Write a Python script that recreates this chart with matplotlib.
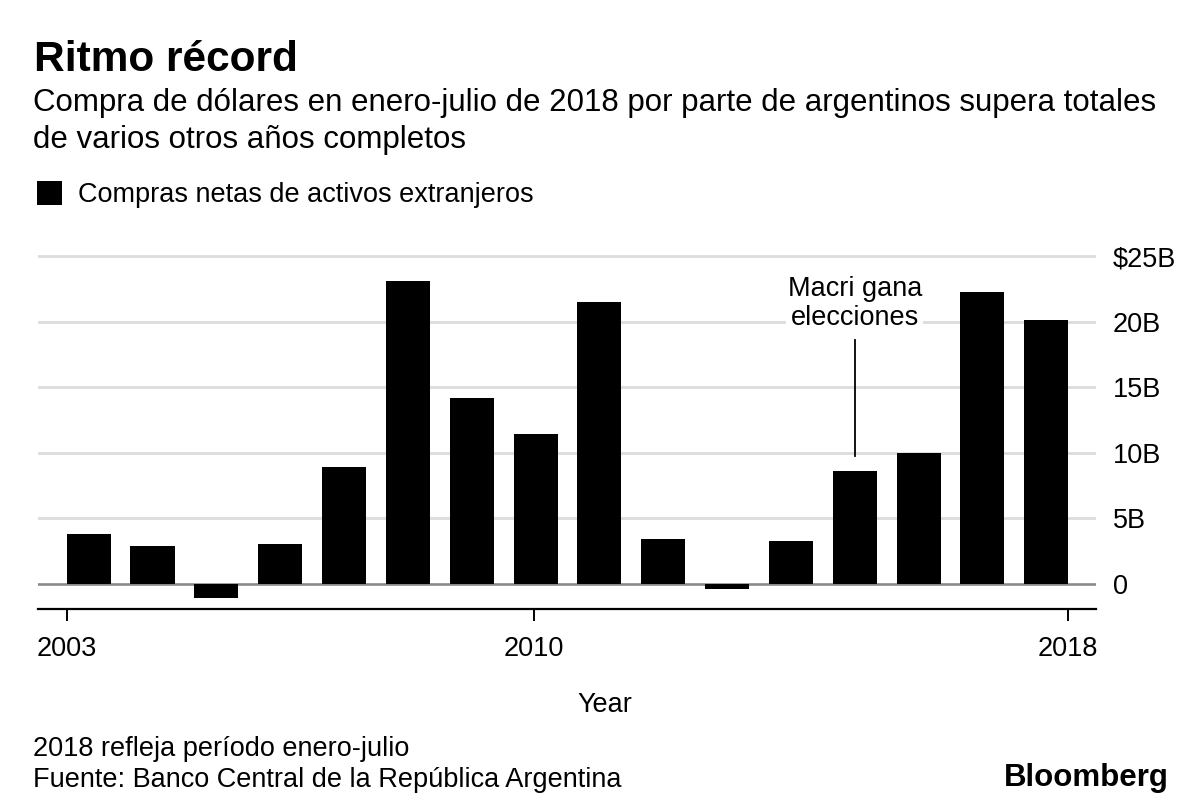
import numpy as np
import matplotlib
matplotlib.use("Agg")
import matplotlib.pyplot as plt

plt.rcParams['font.family'] = ['Liberation Sans', 'DejaVu Sans']

# Data
years = list(range(2003, 2019))
values = [3.8, 2.85, -1.1, 3.0, 8.9, 23.1, 14.2, 11.4, 21.5, 3.4, -0.4, 3.25, 8.6, 10.0, 22.25, 20.15]
tick_years = [2003, 2010, 2018]
ytick_vals = [0, 5, 10, 15, 20, 25]
ytick_labels = ['0', '5B', '10B', '15B', '20B', '$25B']

W, H = 1200, 809
def fx(px):
    return px / W
def fy(py):
    return 1 - py / H

fig = plt.figure(figsize=(12, 8.09), dpi=100)
ax = fig.add_axes([fx(38), 200 / H, (1096 - 38) / W, 359 / H])

bar_w = 0.69
x = np.arange(len(years))
bars = ax.bar(x, values, width=bar_w, color='black', zorder=3, label='Compras netas de activos extranjeros')

# year ticks: first bar starts at 2003, last bar ends at 2018
first_edge = x[0] - bar_w / 2
last_edge = x[-1] + bar_w / 2
def year_pos(y):
    return first_edge + (y - years[0]) / (years[-1] - years[0]) * (last_edge - first_edge)

ax.set_xlim(-0.794, 15.78)
ax.set_ylim(-1.93, 25.47)

ax.set_xticks([year_pos(y) for y in tick_years])
ax.set_xticklabels([str(y) for y in tick_years])
ax.set_yticks(ytick_vals)
ax.set_yticklabels(ytick_labels)

ax.yaxis.tick_right()
ax.tick_params(axis='y', length=0, pad=12, labelsize=19.5)
ax.tick_params(axis='x', length=8.4, width=1.4, direction='out', pad=11, labelsize=19.5)
ax.yaxis.grid(True, color='#dcdcdc', linewidth=2, zorder=0)
ax.set_axisbelow(True)
ax.axhline(0, color='#8a8a8a', linewidth=1.8, zorder=2)

for s in ['top', 'left', 'right']:
    ax.spines[s].set_visible(False)
ax.spines['bottom'].set_linewidth(1.6)
ax.spines['bottom'].set_color('black')

# annotation for 2015
i15 = years.index(2015)
ax.plot([x[i15], x[i15]], [values[i15] + 1.15, 18.6], color='black', lw=1.3, zorder=4)
ax.text(x[i15], 19.3, 'Macri gana\nelecciones', ha='center', va='bottom', fontsize=19.5,
        linespacing=1.15, zorder=5,
        bbox=dict(facecolor='white', edgecolor='none', pad=1))

# titles and texts
fig.text(fx(34), fy(71), 'Ritmo récord', fontsize=30.5, fontweight='bold', va='baseline')
fig.text(fx(33), fy(111), 'Compra de dólares en enero-julio de 2018 por parte de argentinos supera totales',
         fontsize=22.5, va='baseline')
fig.text(fx(33), fy(148), 'de varios otros años completos', fontsize=22.5, va='baseline')

fig.legend(loc='upper left', bbox_to_anchor=(fx(37), fy(181)), frameon=False, fontsize=19.5,
           handlelength=0.93, handleheight=1.0, handletextpad=0.6, borderpad=0, borderaxespad=0)

fig.text(fx(605), fy(712), 'Year', fontsize=19.5, ha='center', va='baseline')
fig.text(fx(33), fy(756), '2018 refleja período enero-julio', fontsize=19.5, va='baseline')
fig.text(fx(33), fy(787), 'Fuente: Banco Central de la República Argentina', fontsize=19.5, va='baseline')
fig.text(fx(1169), fy(786), 'Bloomberg', fontsize=22.5, fontweight='bold', ha='right', va='baseline')

fig.savefig('out.png', dpi=100)
